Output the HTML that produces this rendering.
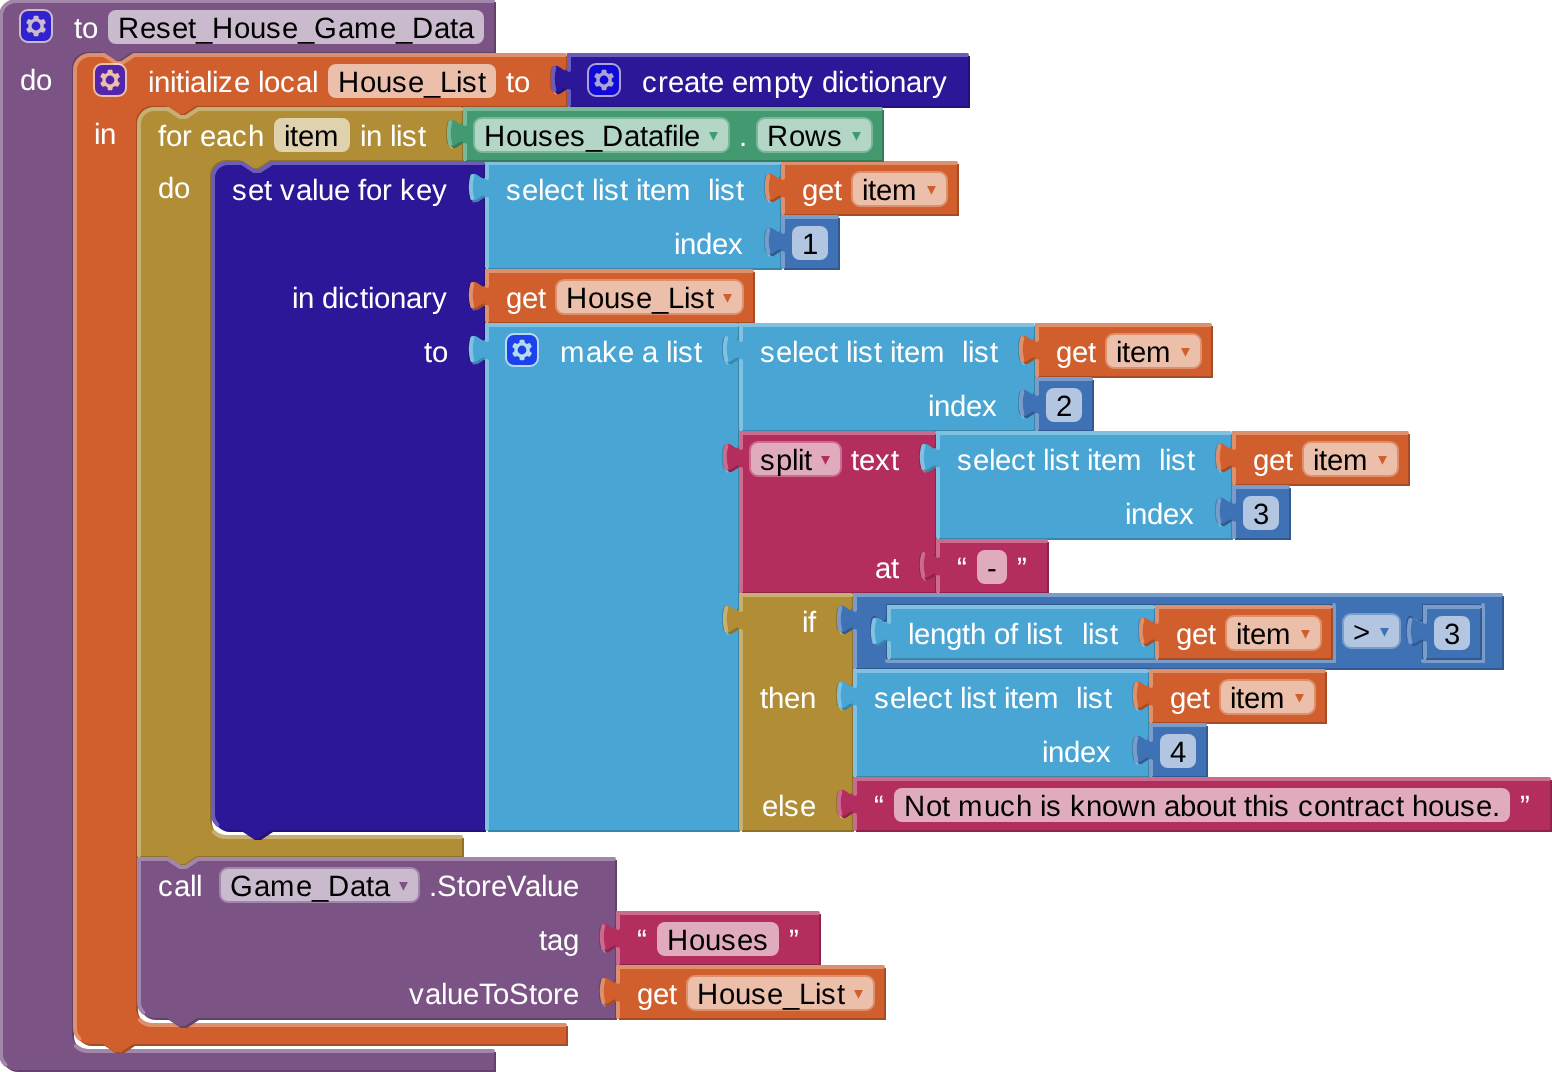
<!DOCTYPE html>
<html lang="en">
<head>
<meta charset="utf-8">
<title>Reset_House_Game_Data</title>
<style>
html,body{margin:0;padding:0;background:#fff;overflow:hidden}
svg{display:block}
text{font-family:"Liberation Sans",Arial,Helvetica,sans-serif;font-size:11pt;white-space:pre;text-rendering:geometricPrecision}
.l{fill:#fff}
.e{fill:#000}
.a{font-family:"DejaVu Sans","Liberation Sans",sans-serif;font-size:8.9px}
.hl{fill:none;stroke-width:2;stroke-linecap:round}
.fr{fill:#fff;fill-opacity:.6}
rect.fr[stroke]{stroke-width:1}
.is{fill:#00f;stroke:#fff;stroke-width:1}
.ig{fill:#fff}
.ic{opacity:.6}
</style>
</head>
<body>
<svg width="1552" height="1072" viewBox="0 0 776 536" xml:space="preserve" role="img" aria-label="App Inventor blocks: procedure Reset_House_Game_Data">
<g transform="translate(0,0)">
<path fill="#63426a" transform="translate(1,1)" d="m 0,8 A 8,8 0 0,1 8,0 H 247 v 26 H 66 l -6,4 -3,0 -6,-4 h -7 a 8,8 0 0,0 -8,8 v 483 a 8,8 0 0,0 8,8 H 247 v 10 H 8 a 8,8 0 0,1 -8,-8 z"/>
<path fill="#7c5385" d="m 0,8 A 8,8 0 0,1 8,0 H 247 v 26 H 66 l -6,4 -3,0 -6,-4 h -7 a 8,8 0 0,0 -8,8 v 483 a 8,8 0 0,0 8,8 H 247 v 10 H 8 a 8,8 0 0,1 -8,-8 z"/>
<path class="hl" stroke="#a387aa" d="m 0.5,7.5 A 7.5,7.5 0 0,1 8,0.5 H 246.5 M 246.5,0.5 M 246.5,26.5 M 37.99,523.01 a 8.5,8.5 0 0,0 6.01,2.49 H 246.5 M 2.697,532.303 A 7.5,7.5 0 0,1 0.5,527 V 8"/>
<g class="ic" transform="translate(10,5)"><rect class="is" rx="4" ry="4" width="16" height="16"/><path class="ig" d="m4.203,7.296 0,1.368 -0.92,0.677 -0.11,0.41 0.9,1.559 0.41,0.11 1.043,-0.457 1.187,0.683 0.127,1.134 0.3,0.3 1.8,0 0.3,-0.299 0.127,-1.138 1.185,-0.682 1.046,0.458 0.409,-0.11 0.9,-1.559 -0.11,-0.41 -0.92,-0.677 0,-1.366 0.92,-0.677 0.11,-0.41 -0.9,-1.559 -0.409,-0.109 -1.046,0.458 -1.185,-0.682 -0.127,-1.138 -0.3,-0.299 -1.8,0 -0.3,0.3 -0.126,1.135 -1.187,0.682 -1.043,-0.457 -0.41,0.11 -0.899,1.559 0.108,0.409z"/><circle class="is" r="2.7" cx="8" cy="8"/></g>
<text class="l" x="37 41" y="19">to</text>
<rect class="fr" x="54" y="5" width="188" height="17" rx="4" ry="4"/>
<text class="e" x="59 70 78 86 94 98 106 117 125 133 141 149 157 169 177 190 198 206 217 225 229" y="19">Reset_House_Game_Data</text>
<text class="l" x="10 18" y="45">do</text>
 <g transform="translate(37,27)">
 <path fill="#a64c24" transform="translate(1,1)" d="m 0,8 A 8,8 0 0,1 8,0 H 15 l 6,4 3,0 6,-4 H 246 v 5 c 0,10 -8,-8 -8,7.5 s 8,-2.5 8,7.5 v 6 H 61 l -6,4 -3,0 -6,-4 h -7 a 8,8 0 0,0 -8,8 v 443 a 8,8 0 0,0 8,8 H 246 v 10 H 29.5 l -6,4 -3,0 -6,-4 H 8 a 8,8 0 0,1 -8,-8 z"/>
 <path fill="#d05f2d" d="m 0,8 A 8,8 0 0,1 8,0 H 15 l 6,4 3,0 6,-4 H 246 v 5 c 0,10 -8,-8 -8,7.5 s 8,-2.5 8,7.5 v 6 H 61 l -6,4 -3,0 -6,-4 h -7 a 8,8 0 0,0 -8,8 v 443 a 8,8 0 0,0 8,8 H 246 v 10 H 29.5 l -6,4 -3,0 -6,-4 H 8 a 8,8 0 0,1 -8,-8 z"/>
 <path class="hl" stroke="#de8f6c" d="m 0.5,7.5 A 7.5,7.5 0 0,1 8,0.5 H 15 l 6,4 3,0 6,-4 H 245.5 M 245.5,0.5 M 241,19.3 l 3.68,-2.1 M 245.5,26.5 M 32.99,483.01 a 8.5,8.5 0 0,0 6.01,2.49 H 245.5 M 2.697,492.303 A 7.5,7.5 0 0,1 0.5,487 V 8"/>
 <g class="ic" transform="translate(10,5)"><rect class="is" rx="4" ry="4" width="16" height="16"/><path class="ig" d="m4.203,7.296 0,1.368 -0.92,0.677 -0.11,0.41 0.9,1.559 0.41,0.11 1.043,-0.457 1.187,0.683 0.127,1.134 0.3,0.3 1.8,0 0.3,-0.299 0.127,-1.138 1.185,-0.682 1.046,0.458 0.409,-0.11 0.9,-1.559 -0.11,-0.41 -0.92,-0.677 0,-1.366 0.92,-0.677 0.11,-0.41 -0.9,-1.559 -0.409,-0.109 -1.046,0.458 -1.185,-0.682 -0.127,-1.138 -0.3,-0.299 -1.8,0 -0.3,0.3 -0.126,1.135 -1.187,0.682 -1.043,-0.457 -0.41,0.11 -0.899,1.559 0.108,0.409z"/><circle class="is" r="2.7" cx="8" cy="8"/></g>
 <text class="l" x="37 40 48 51 55 58 66 69 72 80 88 92 95 103 111 119" y="19">initialize local</text>
 <rect class="fr" x="127" y="5" width="84" height="17" rx="4" ry="4"/>
 <text class="e" x="132 143 151 159 167 175 183 191 194 202" y="19">House_List</text>
 <text class="l" x="216 220" y="19">to</text>
 <text class="l" x="10 13" y="45">in</text>
  <g transform="translate(247,0)">
  <path fill="#24127a" transform="translate(1,1)" d="m 0,0 H 200 v 26 H 0 V 20 c 0,-10 -8,8 -8,-7.5 s 8,2.5 8,-7.5 z"/>
  <path fill="#2d1799" d="m 0,0 H 200 v 26 H 0 V 20 c 0,-10 -8,8 -8,-7.5 s 8,2.5 8,-7.5 z"/>
  <path class="hl" stroke="#6c5db8" d="m 0.5,0.5 H 199.5 M 199.5,0.5 M 0.5,25.5 V 18.5 m -7.36,-0.5 q -1.52,-5.5 0,-11 m 7.36,1 V 0.5 H 1"/>
  <g class="ic" transform="translate(10,5)"><rect class="is" rx="4" ry="4" width="16" height="16"/><path class="ig" d="m4.203,7.296 0,1.368 -0.92,0.677 -0.11,0.41 0.9,1.559 0.41,0.11 1.043,-0.457 1.187,0.683 0.127,1.134 0.3,0.3 1.8,0 0.3,-0.299 0.127,-1.138 1.185,-0.682 1.046,0.458 0.409,-0.11 0.9,-1.559 -0.11,-0.41 -0.92,-0.677 0,-1.366 0.92,-0.677 0.11,-0.41 -0.9,-1.559 -0.409,-0.109 -1.046,0.458 -1.185,-0.682 -0.127,-1.138 -0.3,-0.299 -1.8,0 -0.3,0.3 -0.126,1.135 -1.187,0.682 -1.043,-0.457 -0.41,0.11 -0.899,1.559 0.108,0.409z"/><circle class="is" r="2.7" cx="8" cy="8"/></g>
  <text class="l" x="37 45 50 58 66 70 78 82 90 103 111 115 123 127 135 138 146 150 153 161 169 177 182" y="19">create empty dictionary</text>
  </g>
  <g transform="translate(32,27)">
  <path fill="#8e722a" transform="translate(1,1)" d="m 0,8 A 8,8 0 0,1 8,0 H 15 l 6,4 3,0 6,-4 H 162 v 5 c 0,10 -8,-8 -8,7.5 s 8,-2.5 8,7.5 v 6 H 66 l -6,4 -3,0 -6,-4 h -7 a 8,8 0 0,0 -8,8 v 322 a 8,8 0 0,0 8,8 H 162 v 10 H 29.5 l -6,4 -3,0 -6,-4 H 0 z"/>
  <path fill="#b18e35" d="m 0,8 A 8,8 0 0,1 8,0 H 15 l 6,4 3,0 6,-4 H 162 v 5 c 0,10 -8,-8 -8,7.5 s 8,-2.5 8,7.5 v 6 H 66 l -6,4 -3,0 -6,-4 h -7 a 8,8 0 0,0 -8,8 v 322 a 8,8 0 0,0 8,8 H 162 v 10 H 29.5 l -6,4 -3,0 -6,-4 H 0 z"/>
  <path class="hl" stroke="#c8b072" d="m 0.5,7.5 A 7.5,7.5 0 0,1 8,0.5 H 15 l 6,4 3,0 6,-4 H 161.5 M 161.5,0.5 M 157,19.3 l 3.68,-2.1 M 161.5,26.5 M 37.99,362.01 a 8.5,8.5 0 0,0 6.01,2.49 H 161.5 M 0.5,373.5 V 8"/>
  <text class="l" x="10 14 22 27 31 39 47 55" y="19">for each</text>
  <rect class="fr" x="68" y="5" width="38" height="17" rx="4" ry="4"/>
  <text class="e" x="73 76 80 88" y="19">item</text>
  <text class="l" x="111 114 122 126 129 132 140" y="19">in list</text>
  <text class="l" x="10 18" y="45">do</text>
   <g transform="translate(37,27)">
   <path fill="#24127a" transform="translate(1,1)" d="m 0,8 A 8,8 0 0,1 8,0 H 15 l 6,4 3,0 6,-4 H 136 v 5 c 0,10 -8,-8 -8,7.5 s 8,-2.5 8,7.5 v 34 v 5 c 0,10 -8,-8 -8,7.5 s 8,-2.5 8,7.5 v 7 v 5 c 0,10 -8,-8 -8,7.5 s 8,-2.5 8,7.5 v 233 H 29.5 l -6,4 -3,0 -6,-4 H 8 a 8,8 0 0,1 -8,-8 z"/>
   <path fill="#2d1799" d="m 0,8 A 8,8 0 0,1 8,0 H 15 l 6,4 3,0 6,-4 H 136 v 5 c 0,10 -8,-8 -8,7.5 s 8,-2.5 8,7.5 v 34 v 5 c 0,10 -8,-8 -8,7.5 s 8,-2.5 8,7.5 v 7 v 5 c 0,10 -8,-8 -8,7.5 s 8,-2.5 8,7.5 v 233 H 29.5 l -6,4 -3,0 -6,-4 H 8 a 8,8 0 0,1 -8,-8 z"/>
   <path class="hl" stroke="#6c5db8" d="m 0.5,7.5 A 7.5,7.5 0 0,1 8,0.5 H 15 l 6,4 3,0 6,-4 H 135.5 M 135.5,0.5 M 131,19.3 l 3.68,-2.1 M 135.5,54.5 M 131,73.3 l 3.68,-2.1 M 135.5,81.5 M 131,100.3 l 3.68,-2.1 M 2.697,331.303 A 7.5,7.5 0 0,1 0.5,326 V 8"/>
   <text class="l" x="10 18 26 30 34 42 50 53 61 69 73 77 85 90 94 102 110" y="19">set value for key</text>
   <text class="l" x="40 43 51 55 63 66 74 78 81 89 97 105 110" y="73">in dictionary</text>
   <text class="l" x="106 110" y="100">to</text>
    <g transform="translate(137,0)">
    <path fill="#3a85aa" transform="translate(1,1)" d="m 0,0 H 147 v 5 c 0,10 -8,-8 -8,7.5 s 8,-2.5 8,7.5 v 7 v 5 c 0,10 -8,-8 -8,7.5 s 8,-2.5 8,7.5 v 6 H 0 V 20 c 0,-10 -8,8 -8,-7.5 s 8,2.5 8,-7.5 z"/>
    <path fill="#49a6d4" d="m 0,0 H 147 v 5 c 0,10 -8,-8 -8,7.5 s 8,-2.5 8,7.5 v 7 v 5 c 0,10 -8,-8 -8,7.5 s 8,-2.5 8,7.5 v 6 H 0 V 20 c 0,-10 -8,8 -8,-7.5 s 8,2.5 8,-7.5 z"/>
    <path class="hl" stroke="#80c1e1" d="m 0.5,0.5 H 146.5 M 146.5,0.5 M 142,19.3 l 3.68,-2.1 M 146.5,27.5 M 142,46.3 l 3.68,-2.1 M 0.5,52.5 V 18.5 m -7.36,-0.5 q -1.52,-5.5 0,-11 m 7.36,1 V 0.5 H 1"/>
    <text class="l" x="10 18 26 29 37 45 49 53 56 59 67 71 75 78 82 90 103 107 111 114 117 125" y="19">select list item  list</text>
    <text class="l" x="94 97 105 113 121" y="46">index</text>
     <g transform="translate(148,0)">
     <path fill="#a64c24" transform="translate(1,1)" d="m 0,0 H 87.5 v 26 H 0 V 20 c 0,-10 -8,8 -8,-7.5 s 8,2.5 8,-7.5 z"/>
     <path fill="#d05f2d" d="m 0,0 H 87.5 v 26 H 0 V 20 c 0,-10 -8,8 -8,-7.5 s 8,2.5 8,-7.5 z"/>
     <path class="hl" stroke="#de8f6c" d="m 0.5,0.5 H 87 M 87,0.5 M 0.5,25.5 V 18.5 m -7.36,-0.5 q -1.52,-5.5 0,-11 m 7.36,1 V 0.5 H 1"/>
     <text class="l" x="10 18 26" y="19">get</text>
     <rect class="fr" x="35" y="5" width="47.5" height="17" rx="4" ry="4" stroke="#de8f6c"/>
     <text class="e" x="40 43 47 55" y="19">item</text>
     <text class="a" fill="#d05f2d" x="72.5" y="16.5">▾</text>
     </g>
     <g transform="translate(148,27)">
     <path fill="#325a91" transform="translate(1,1)" d="m 0,0 H 28 v 26 H 0 V 20 c 0,-10 -8,8 -8,-7.5 s 8,2.5 8,-7.5 z"/>
     <path fill="#3f71b5" d="m 0,0 H 28 v 26 H 0 V 20 c 0,-10 -8,8 -8,-7.5 s 8,2.5 8,-7.5 z"/>
     <path class="hl" stroke="#799ccb" d="m 0.5,0.5 H 27.5 M 27.5,0.5 M 0.5,25.5 V 18.5 m -7.36,-0.5 q -1.52,-5.5 0,-11 m 7.36,1 V 0.5 H 1"/>
     <rect class="fr" x="5" y="5" width="18" height="17" rx="4" ry="4"/>
     <text class="e" x="10" y="19">1</text>
     </g>
    </g>
    <g transform="translate(137,54)">
    <path fill="#a64c24" transform="translate(1,1)" d="m 0,0 H 133.5 v 26 H 0 V 20 c 0,-10 -8,8 -8,-7.5 s 8,2.5 8,-7.5 z"/>
    <path fill="#d05f2d" d="m 0,0 H 133.5 v 26 H 0 V 20 c 0,-10 -8,8 -8,-7.5 s 8,2.5 8,-7.5 z"/>
    <path class="hl" stroke="#de8f6c" d="m 0.5,0.5 H 133 M 133,0.5 M 0.5,25.5 V 18.5 m -7.36,-0.5 q -1.52,-5.5 0,-11 m 7.36,1 V 0.5 H 1"/>
    <text class="l" x="10 18 26" y="19">get</text>
    <rect class="fr" x="35" y="5" width="93.5" height="17" rx="4" ry="4" stroke="#de8f6c"/>
    <text class="e" x="40 51 59 67 75 83 91 99 102 110" y="19">House_List</text>
    <text class="a" fill="#d05f2d" x="118.5" y="16.5">▾</text>
    </g>
    <g transform="translate(137,81)">
    <path fill="#3a85aa" transform="translate(1,1)" d="m 0,0 H 126 v 5 c 0,10 -8,-8 -8,7.5 s 8,-2.5 8,7.5 v 34 v 5 c 0,10 -8,-8 -8,7.5 s 8,-2.5 8,7.5 v 61 v 5 c 0,10 -8,-8 -8,7.5 s 8,-2.5 8,7.5 v 98 H 0 V 20 c 0,-10 -8,8 -8,-7.5 s 8,2.5 8,-7.5 z"/>
    <path fill="#49a6d4" d="m 0,0 H 126 v 5 c 0,10 -8,-8 -8,7.5 s 8,-2.5 8,7.5 v 34 v 5 c 0,10 -8,-8 -8,7.5 s 8,-2.5 8,7.5 v 61 v 5 c 0,10 -8,-8 -8,7.5 s 8,-2.5 8,7.5 v 98 H 0 V 20 c 0,-10 -8,8 -8,-7.5 s 8,2.5 8,-7.5 z"/>
    <path class="hl" stroke="#80c1e1" d="m 0.5,0.5 H 125.5 M 125.5,0.5 M 121,19.3 l 3.68,-2.1 M 125.5,54.5 M 121,73.3 l 3.68,-2.1 M 125.5,135.5 M 121,154.3 l 3.68,-2.1 M 0.5,252.5 V 18.5 m -7.36,-0.5 q -1.52,-5.5 0,-11 m 7.36,1 V 0.5 H 1"/>
    <g class="ic" transform="translate(10,5)"><rect class="is" rx="4" ry="4" width="16" height="16"/><path class="ig" d="m4.203,7.296 0,1.368 -0.92,0.677 -0.11,0.41 0.9,1.559 0.41,0.11 1.043,-0.457 1.187,0.683 0.127,1.134 0.3,0.3 1.8,0 0.3,-0.299 0.127,-1.138 1.185,-0.682 1.046,0.458 0.409,-0.11 0.9,-1.559 -0.11,-0.41 -0.92,-0.677 0,-1.366 0.92,-0.677 0.11,-0.41 -0.9,-1.559 -0.409,-0.109 -1.046,0.458 -1.185,-0.682 -0.127,-1.138 -0.3,-0.299 -1.8,0 -0.3,0.3 -0.126,1.135 -1.187,0.682 -1.043,-0.457 -0.41,0.11 -0.899,1.559 0.108,0.409z"/><circle class="is" r="2.7" cx="8" cy="8"/></g>
    <text class="l" x="37 50 58 66 74 78 86 90 93 96 104" y="19">make a list</text>
     <g transform="translate(127,0)">
     <path fill="#3a85aa" transform="translate(1,1)" d="m 0,0 H 147 v 5 c 0,10 -8,-8 -8,7.5 s 8,-2.5 8,7.5 v 7 v 5 c 0,10 -8,-8 -8,7.5 s 8,-2.5 8,7.5 v 6 H 0 V 20 c 0,-10 -8,8 -8,-7.5 s 8,2.5 8,-7.5 z"/>
     <path fill="#49a6d4" d="m 0,0 H 147 v 5 c 0,10 -8,-8 -8,7.5 s 8,-2.5 8,7.5 v 7 v 5 c 0,10 -8,-8 -8,7.5 s 8,-2.5 8,7.5 v 6 H 0 V 20 c 0,-10 -8,8 -8,-7.5 s 8,2.5 8,-7.5 z"/>
     <path class="hl" stroke="#80c1e1" d="m 0.5,0.5 H 146.5 M 146.5,0.5 M 142,19.3 l 3.68,-2.1 M 146.5,27.5 M 142,46.3 l 3.68,-2.1 M 0.5,52.5 V 18.5 m -7.36,-0.5 q -1.52,-5.5 0,-11 m 7.36,1 V 0.5 H 1"/>
     <text class="l" x="10 18 26 29 37 45 49 53 56 59 67 71 75 78 82 90 103 107 111 114 117 125" y="19">select list item  list</text>
     <text class="l" x="94 97 105 113 121" y="46">index</text>
      <g transform="translate(148,0)">
      <path fill="#a64c24" transform="translate(1,1)" d="m 0,0 H 87.5 v 26 H 0 V 20 c 0,-10 -8,8 -8,-7.5 s 8,2.5 8,-7.5 z"/>
      <path fill="#d05f2d" d="m 0,0 H 87.5 v 26 H 0 V 20 c 0,-10 -8,8 -8,-7.5 s 8,2.5 8,-7.5 z"/>
      <path class="hl" stroke="#de8f6c" d="m 0.5,0.5 H 87 M 87,0.5 M 0.5,25.5 V 18.5 m -7.36,-0.5 q -1.52,-5.5 0,-11 m 7.36,1 V 0.5 H 1"/>
      <text class="l" x="10 18 26" y="19">get</text>
      <rect class="fr" x="35" y="5" width="47.5" height="17" rx="4" ry="4" stroke="#de8f6c"/>
      <text class="e" x="40 43 47 55" y="19">item</text>
      <text class="a" fill="#d05f2d" x="72.5" y="16.5">▾</text>
      </g>
      <g transform="translate(148,27)">
      <path fill="#325a91" transform="translate(1,1)" d="m 0,0 H 28 v 26 H 0 V 20 c 0,-10 -8,8 -8,-7.5 s 8,2.5 8,-7.5 z"/>
      <path fill="#3f71b5" d="m 0,0 H 28 v 26 H 0 V 20 c 0,-10 -8,8 -8,-7.5 s 8,2.5 8,-7.5 z"/>
      <path class="hl" stroke="#799ccb" d="m 0.5,0.5 H 27.5 M 27.5,0.5 M 0.5,25.5 V 18.5 m -7.36,-0.5 q -1.52,-5.5 0,-11 m 7.36,1 V 0.5 H 1"/>
      <rect class="fr" x="5" y="5" width="18" height="17" rx="4" ry="4"/>
      <text class="e" x="10" y="19">2</text>
      </g>
     </g>
     <g transform="translate(127,54)">
     <path fill="#8f244b" transform="translate(1,1)" d="m 0,0 H 97.5 v 5 c 0,10 -8,-8 -8,7.5 s 8,-2.5 8,7.5 v 34 v 5 c 0,10 -8,-8 -8,7.5 s 8,-2.5 8,7.5 v 6 H 0 V 20 c 0,-10 -8,8 -8,-7.5 s 8,2.5 8,-7.5 z"/>
     <path fill="#b32d5e" d="m 0,0 H 97.5 v 5 c 0,10 -8,-8 -8,7.5 s 8,-2.5 8,7.5 v 34 v 5 c 0,10 -8,-8 -8,7.5 s 8,-2.5 8,7.5 v 6 H 0 V 20 c 0,-10 -8,8 -8,-7.5 s 8,2.5 8,-7.5 z"/>
     <path class="hl" stroke="#ca6c8e" d="m 0.5,0.5 H 97 M 97,0.5 M 92.5,19.3 l 3.68,-2.1 M 97,54.5 M 92.5,73.3 l 3.68,-2.1 M 0.5,79.5 V 18.5 m -7.36,-0.5 q -1.52,-5.5 0,-11 m 7.36,1 V 0.5 H 1"/>
     <rect class="fr" x="5" y="5" width="45.5" height="17" rx="4" ry="4" stroke="#ca6c8e"/>
     <text class="e" x="10 18 26 29 32" y="19">split</text>
     <text class="a" fill="#b32d5e" x="40.5" y="16.5">▾</text>
     <text class="l" x="55.5 59.5 67.5 75.5" y="19">text</text>
     <text class="l" x="67.5 75.5" y="73">at</text>
      <g transform="translate(98.5,0)">
      <path fill="#3a85aa" transform="translate(1,1)" d="m 0,0 H 147 v 5 c 0,10 -8,-8 -8,7.5 s 8,-2.5 8,7.5 v 7 v 5 c 0,10 -8,-8 -8,7.5 s 8,-2.5 8,7.5 v 6 H 0 V 20 c 0,-10 -8,8 -8,-7.5 s 8,2.5 8,-7.5 z"/>
      <path fill="#49a6d4" d="m 0,0 H 147 v 5 c 0,10 -8,-8 -8,7.5 s 8,-2.5 8,7.5 v 7 v 5 c 0,10 -8,-8 -8,7.5 s 8,-2.5 8,7.5 v 6 H 0 V 20 c 0,-10 -8,8 -8,-7.5 s 8,2.5 8,-7.5 z"/>
      <path class="hl" stroke="#80c1e1" d="m 0.5,0.5 H 146.5 M 146.5,0.5 M 142,19.3 l 3.68,-2.1 M 146.5,27.5 M 142,46.3 l 3.68,-2.1 M 0.5,52.5 V 18.5 m -7.36,-0.5 q -1.52,-5.5 0,-11 m 7.36,1 V 0.5 H 1"/>
      <text class="l" x="10 18 26 29 37 45 49 53 56 59 67 71 75 78 82 90 103 107 111 114 117 125" y="19">select list item  list</text>
      <text class="l" x="94 97 105 113 121" y="46">index</text>
       <g transform="translate(148,0)">
       <path fill="#a64c24" transform="translate(1,1)" d="m 0,0 H 87.5 v 26 H 0 V 20 c 0,-10 -8,8 -8,-7.5 s 8,2.5 8,-7.5 z"/>
       <path fill="#d05f2d" d="m 0,0 H 87.5 v 26 H 0 V 20 c 0,-10 -8,8 -8,-7.5 s 8,2.5 8,-7.5 z"/>
       <path class="hl" stroke="#de8f6c" d="m 0.5,0.5 H 87 M 87,0.5 M 0.5,25.5 V 18.5 m -7.36,-0.5 q -1.52,-5.5 0,-11 m 7.36,1 V 0.5 H 1"/>
       <text class="l" x="10 18 26" y="19">get</text>
       <rect class="fr" x="35" y="5" width="47.5" height="17" rx="4" ry="4" stroke="#de8f6c"/>
       <text class="e" x="40 43 47 55" y="19">item</text>
       <text class="a" fill="#d05f2d" x="72.5" y="16.5">▾</text>
       </g>
       <g transform="translate(148,27)">
       <path fill="#325a91" transform="translate(1,1)" d="m 0,0 H 28 v 26 H 0 V 20 c 0,-10 -8,8 -8,-7.5 s 8,2.5 8,-7.5 z"/>
       <path fill="#3f71b5" d="m 0,0 H 28 v 26 H 0 V 20 c 0,-10 -8,8 -8,-7.5 s 8,2.5 8,-7.5 z"/>
       <path class="hl" stroke="#799ccb" d="m 0.5,0.5 H 27.5 M 27.5,0.5 M 0.5,25.5 V 18.5 m -7.36,-0.5 q -1.52,-5.5 0,-11 m 7.36,1 V 0.5 H 1"/>
       <rect class="fr" x="5" y="5" width="18" height="17" rx="4" ry="4"/>
       <text class="e" x="10" y="19">3</text>
       </g>
      </g>
      <g transform="translate(98.5,54)">
      <path fill="#8f244b" transform="translate(1,1)" d="m 0,0 H 55 v 26 H 0 V 20 c 0,-10 -8,8 -8,-7.5 s 8,2.5 8,-7.5 z"/>
      <path fill="#b32d5e" d="m 0,0 H 55 v 26 H 0 V 20 c 0,-10 -8,8 -8,-7.5 s 8,2.5 8,-7.5 z"/>
      <path class="hl" stroke="#ca6c8e" d="m 0.5,0.5 H 54.5 M 54.5,0.5 M 0.5,25.5 V 18.5 m -7.36,-0.5 q -1.52,-5.5 0,-11 m 7.36,1 V 0.5 H 1"/>
      <text class="l" x="10" y="19">“</text>
      <rect class="fr" x="20" y="5" width="15" height="17" rx="4" ry="4"/>
      <text class="e" x="25" y="19">-</text>
      <text class="l" x="40" y="19">”</text>
      </g>
     </g>
     <g transform="translate(127,135)">
     <path fill="#8e722a" transform="translate(1,1)" d="m 0,0 H 56 v 5 c 0,10 -8,-8 -8,7.5 s 8,-2.5 8,7.5 v 18 v 5 c 0,10 -8,-8 -8,7.5 s 8,-2.5 8,7.5 v 34 v 5 c 0,10 -8,-8 -8,7.5 s 8,-2.5 8,7.5 v 6 H 0 V 20 c 0,-10 -8,8 -8,-7.5 s 8,2.5 8,-7.5 z"/>
     <path fill="#b18e35" d="m 0,0 H 56 v 5 c 0,10 -8,-8 -8,7.5 s 8,-2.5 8,7.5 v 18 v 5 c 0,10 -8,-8 -8,7.5 s 8,-2.5 8,7.5 v 34 v 5 c 0,10 -8,-8 -8,7.5 s 8,-2.5 8,7.5 v 6 H 0 V 20 c 0,-10 -8,8 -8,-7.5 s 8,2.5 8,-7.5 z"/>
     <path class="hl" stroke="#c8b072" d="m 0.5,0.5 H 55.5 M 55.5,0.5 M 51,19.3 l 3.68,-2.1 M 55.5,38.5 M 51,57.3 l 3.68,-2.1 M 55.5,92.5 M 51,111.3 l 3.68,-2.1 M 0.5,117.5 V 18.5 m -7.36,-0.5 q -1.52,-5.5 0,-11 m 7.36,1 V 0.5 H 1"/>
     <text class="l" x="31 34" y="19">if</text>
     <text class="l" x="10 14 22 30" y="57">then</text>
     <text class="l" x="11 19 22 30" y="111">else</text>
      <g transform="translate(57,0)">
      <path fill="#325a91" transform="translate(1,1)" d="m 0,0 H 20 H 324 v 37 H 0 V 20 c 0,-10 -8,8 -8,-7.5 s 8,2.5 8,-7.5 z M 239.5,5 h -223.5 v 5 c 0,10 -8,-8 -8,7.5 s 8,-2.5 8,7.5 v 8 h 223.5 z M 314,5 h -30 v 5 c 0,10 -8,-8 -8,7.5 s 8,-2.5 8,7.5 v 8 h 30 z"/>
      <path fill="#3f71b5" d="m 0,0 H 20 H 324 v 37 H 0 V 20 c 0,-10 -8,8 -8,-7.5 s 8,2.5 8,-7.5 z M 239.5,5 h -223.5 v 5 c 0,10 -8,-8 -8,7.5 s 8,-2.5 8,7.5 v 8 h 223.5 z M 314,5 h -30 v 5 c 0,10 -8,-8 -8,7.5 s 8,-2.5 8,7.5 v 8 h 30 z"/>
      <path class="hl" stroke="#799ccb" d="m 0.5,0.5 H 19.5 M 19.5,0.5 H 323.5 M 0.5,36.5 V 18.5 m -7.36,-0.5 q -1.52,-5.5 0,-11 m 7.36,1 V 0.5 H 1 M 240,5.5 v 28 h -223.5 M 10.9,24.3 l 3.68,-2.1 M 314.5,5.5 v 28 h -30 M 278.9,24.3 l 3.68,-2.1"/>
      <rect class="fr" x="244.5" y="10" width="28.5" height="17" rx="4" ry="4" stroke="#799ccb"/>
      <text class="e" x="249.5" y="24">&gt;</text>
      <text class="a" fill="#3f71b5" x="263" y="21.5">▾</text>
       <g transform="translate(17,6)">
       <path fill="#3a85aa" transform="translate(1,1)" d="m 0,0 H 133 v 5 c 0,10 -8,-8 -8,7.5 s 8,-2.5 8,7.5 v 6 H 0 V 20 c 0,-10 -8,8 -8,-7.5 s 8,2.5 8,-7.5 z"/>
       <path fill="#49a6d4" d="m 0,0 H 133 v 5 c 0,10 -8,-8 -8,7.5 s 8,-2.5 8,7.5 v 6 H 0 V 20 c 0,-10 -8,8 -8,-7.5 s 8,2.5 8,-7.5 z"/>
       <path class="hl" stroke="#80c1e1" d="m 0.5,0.5 H 132.5 M 132.5,0.5 M 128,19.3 l 3.68,-2.1 M 0.5,25.5 V 18.5 m -7.36,-0.5 q -1.52,-5.5 0,-11 m 7.36,1 V 0.5 H 1"/>
       <text class="l" x="10 13 21 29 37 41 49 53 61 65 69 72 75 83" y="19">length of list</text>
       <text class="l" x="97 100 103 111" y="19">list</text>
        <g transform="translate(134,0)">
        <path fill="#a64c24" transform="translate(1,1)" d="m 0,0 H 87.5 v 26 H 0 V 20 c 0,-10 -8,8 -8,-7.5 s 8,2.5 8,-7.5 z"/>
        <path fill="#d05f2d" d="m 0,0 H 87.5 v 26 H 0 V 20 c 0,-10 -8,8 -8,-7.5 s 8,2.5 8,-7.5 z"/>
        <path class="hl" stroke="#de8f6c" d="m 0.5,0.5 H 87 M 87,0.5 M 0.5,25.5 V 18.5 m -7.36,-0.5 q -1.52,-5.5 0,-11 m 7.36,1 V 0.5 H 1"/>
        <text class="l" x="10 18 26" y="19">get</text>
        <rect class="fr" x="35" y="5" width="47.5" height="17" rx="4" ry="4" stroke="#de8f6c"/>
        <text class="e" x="40 43 47 55" y="19">item</text>
        <text class="a" fill="#d05f2d" x="72.5" y="16.5">▾</text>
        </g>
       </g>
       <g transform="translate(285,6)">
       <path fill="#325a91" transform="translate(1,1)" d="m 0,0 H 28 v 26 H 0 V 20 c 0,-10 -8,8 -8,-7.5 s 8,2.5 8,-7.5 z"/>
       <path fill="#3f71b5" d="m 0,0 H 28 v 26 H 0 V 20 c 0,-10 -8,8 -8,-7.5 s 8,2.5 8,-7.5 z"/>
       <path class="hl" stroke="#799ccb" d="m 0.5,0.5 H 27.5 M 27.5,0.5 M 0.5,25.5 V 18.5 m -7.36,-0.5 q -1.52,-5.5 0,-11 m 7.36,1 V 0.5 H 1"/>
       <rect class="fr" x="5" y="5" width="18" height="17" rx="4" ry="4"/>
       <text class="e" x="10" y="19">3</text>
       </g>
      </g>
      <g transform="translate(57,38)">
      <path fill="#3a85aa" transform="translate(1,1)" d="m 0,0 H 147 v 5 c 0,10 -8,-8 -8,7.5 s 8,-2.5 8,7.5 v 7 v 5 c 0,10 -8,-8 -8,7.5 s 8,-2.5 8,7.5 v 6 H 0 V 20 c 0,-10 -8,8 -8,-7.5 s 8,2.5 8,-7.5 z"/>
      <path fill="#49a6d4" d="m 0,0 H 147 v 5 c 0,10 -8,-8 -8,7.5 s 8,-2.5 8,7.5 v 7 v 5 c 0,10 -8,-8 -8,7.5 s 8,-2.5 8,7.5 v 6 H 0 V 20 c 0,-10 -8,8 -8,-7.5 s 8,2.5 8,-7.5 z"/>
      <path class="hl" stroke="#80c1e1" d="m 0.5,0.5 H 146.5 M 146.5,0.5 M 142,19.3 l 3.68,-2.1 M 146.5,27.5 M 142,46.3 l 3.68,-2.1 M 0.5,52.5 V 18.5 m -7.36,-0.5 q -1.52,-5.5 0,-11 m 7.36,1 V 0.5 H 1"/>
      <text class="l" x="10 18 26 29 37 45 49 53 56 59 67 71 75 78 82 90 103 107 111 114 117 125" y="19">select list item  list</text>
      <text class="l" x="94 97 105 113 121" y="46">index</text>
       <g transform="translate(148,0)">
       <path fill="#a64c24" transform="translate(1,1)" d="m 0,0 H 87.5 v 26 H 0 V 20 c 0,-10 -8,8 -8,-7.5 s 8,2.5 8,-7.5 z"/>
       <path fill="#d05f2d" d="m 0,0 H 87.5 v 26 H 0 V 20 c 0,-10 -8,8 -8,-7.5 s 8,2.5 8,-7.5 z"/>
       <path class="hl" stroke="#de8f6c" d="m 0.5,0.5 H 87 M 87,0.5 M 0.5,25.5 V 18.5 m -7.36,-0.5 q -1.52,-5.5 0,-11 m 7.36,1 V 0.5 H 1"/>
       <text class="l" x="10 18 26" y="19">get</text>
       <rect class="fr" x="35" y="5" width="47.5" height="17" rx="4" ry="4" stroke="#de8f6c"/>
       <text class="e" x="40 43 47 55" y="19">item</text>
       <text class="a" fill="#d05f2d" x="72.5" y="16.5">▾</text>
       </g>
       <g transform="translate(148,27)">
       <path fill="#325a91" transform="translate(1,1)" d="m 0,0 H 28 v 26 H 0 V 20 c 0,-10 -8,8 -8,-7.5 s 8,2.5 8,-7.5 z"/>
       <path fill="#3f71b5" d="m 0,0 H 28 v 26 H 0 V 20 c 0,-10 -8,8 -8,-7.5 s 8,2.5 8,-7.5 z"/>
       <path class="hl" stroke="#799ccb" d="m 0.5,0.5 H 27.5 M 27.5,0.5 M 0.5,25.5 V 18.5 m -7.36,-0.5 q -1.52,-5.5 0,-11 m 7.36,1 V 0.5 H 1"/>
       <rect class="fr" x="5" y="5" width="18" height="17" rx="4" ry="4"/>
       <text class="e" x="10" y="19">4</text>
       </g>
      </g>
      <g transform="translate(57,92)">
      <path fill="#8f244b" transform="translate(1,1)" d="m 0,0 H 348 v 26 H 0 V 20 c 0,-10 -8,8 -8,-7.5 s 8,2.5 8,-7.5 z"/>
      <path fill="#b32d5e" d="m 0,0 H 348 v 26 H 0 V 20 c 0,-10 -8,8 -8,-7.5 s 8,2.5 8,-7.5 z"/>
      <path class="hl" stroke="#ca6c8e" d="m 0.5,0.5 H 347.5 M 347.5,0.5 M 0.5,25.5 V 18.5 m -7.36,-0.5 q -1.52,-5.5 0,-11 m 7.36,1 V 0.5 H 1"/>
      <text class="l" x="10" y="19">“</text>
      <rect class="fr" x="20" y="5" width="308" height="17" rx="4" ry="4"/>
      <text class="e" x="25 36 44 48 52 65 73 81 89 93 96 104 108 116 124 132 143 151 155 163 171 179 187 191 195 199 207 210 218 222 230 238 246 250 255 263 271 275 279 287 295 303 311 319" y="19">Not much is known about this contract house.</text>
      <text class="l" x="333" y="19">”</text>
      </g>
     </g>
    </g>
   </g>
   <g transform="translate(0,375)">
   <path fill="#63426a" transform="translate(1,1)" d="m 0,0 H 15 l 6,4 3,0 6,-4 H 238.5 v 27 v 5 c 0,10 -8,-8 -8,7.5 s 8,-2.5 8,7.5 v 7 v 5 c 0,10 -8,-8 -8,7.5 s 8,-2.5 8,7.5 v 6 H 29.5 l -6,4 -3,0 -6,-4 H 8 a 8,8 0 0,1 -8,-8 z"/>
   <path fill="#7c5385" d="m 0,0 H 15 l 6,4 3,0 6,-4 H 238.5 v 27 v 5 c 0,10 -8,-8 -8,7.5 s 8,-2.5 8,7.5 v 7 v 5 c 0,10 -8,-8 -8,7.5 s 8,-2.5 8,7.5 v 6 H 29.5 l -6,4 -3,0 -6,-4 H 8 a 8,8 0 0,1 -8,-8 z"/>
   <path class="hl" stroke="#a387aa" d="m 0.5,0.5 H 15 l 6,4 3,0 6,-4 H 238 M 238,0.5 M 238,27.5 M 233.5,46.3 l 3.68,-2.1 M 238,54.5 M 233.5,73.3 l 3.68,-2.1 M 2.697,77.303 A 7.5,7.5 0 0,1 0.5,72 V 0.5"/>
   <text class="l" x="10 18 26 29 32" y="19">call </text>
   <rect class="fr" x="41" y="5" width="99.5" height="17" rx="4" ry="4" stroke="#a387aa"/>
   <text class="e" x="46 58 66 79 87 95 106 114 118" y="19">Game_Data</text>
   <text class="a" fill="#7c5385" x="130.5" y="16.5">▾</text>
   <text class="l" x="145.5 149.5 159.5 163.5 171.5 176.5 184.5 193.5 201.5 204.5 212.5" y="19">.StoreValue</text>
   <text class="l" x="200.5 204.5 212.5" y="46">tag</text>
   <text class="l" x="135.5 143.5 151.5 154.5 162.5 170.5 177.5 185.5 195.5 199.5 207.5 212.5" y="73">valueToStore</text>
    <g transform="translate(239.5,27)">
    <path fill="#8f244b" transform="translate(1,1)" d="m 0,0 H 101 v 26 H 0 V 20 c 0,-10 -8,8 -8,-7.5 s 8,2.5 8,-7.5 z"/>
    <path fill="#b32d5e" d="m 0,0 H 101 v 26 H 0 V 20 c 0,-10 -8,8 -8,-7.5 s 8,2.5 8,-7.5 z"/>
    <path class="hl" stroke="#ca6c8e" d="m 0.5,0.5 H 100.5 M 100.5,0.5 M 0.5,25.5 V 18.5 m -7.36,-0.5 q -1.52,-5.5 0,-11 m 7.36,1 V 0.5 H 1"/>
    <text class="l" x="10" y="19">“</text>
    <rect class="fr" x="20" y="5" width="61" height="17" rx="4" ry="4"/>
    <text class="e" x="25 36 44 52 60 68" y="19">Houses</text>
    <text class="l" x="86" y="19">”</text>
    </g>
    <g transform="translate(239.5,54)">
    <path fill="#a64c24" transform="translate(1,1)" d="m 0,0 H 133.5 v 26 H 0 V 20 c 0,-10 -8,8 -8,-7.5 s 8,2.5 8,-7.5 z"/>
    <path fill="#d05f2d" d="m 0,0 H 133.5 v 26 H 0 V 20 c 0,-10 -8,8 -8,-7.5 s 8,2.5 8,-7.5 z"/>
    <path class="hl" stroke="#de8f6c" d="m 0.5,0.5 H 133 M 133,0.5 M 0.5,25.5 V 18.5 m -7.36,-0.5 q -1.52,-5.5 0,-11 m 7.36,1 V 0.5 H 1"/>
    <text class="l" x="10 18 26" y="19">get</text>
    <rect class="fr" x="35" y="5" width="93.5" height="17" rx="4" ry="4" stroke="#de8f6c"/>
    <text class="e" x="40 51 59 67 75 83 91 99 102 110" y="19">House_List</text>
    <text class="a" fill="#d05f2d" x="118.5" y="16.5">▾</text>
    </g>
   </g>
   <g transform="translate(163,0)">
   <path fill="#367a5a" transform="translate(1,1)" d="m 0,0 H 209 v 26 H 0 V 20 c 0,-10 -8,8 -8,-7.5 s 8,2.5 8,-7.5 z"/>
   <path fill="#439970" d="m 0,0 H 209 v 26 H 0 V 20 c 0,-10 -8,8 -8,-7.5 s 8,2.5 8,-7.5 z"/>
   <path class="hl" stroke="#7bb89b" d="m 0.5,0.5 H 208.5 M 208.5,0.5 M 0.5,25.5 V 18.5 m -7.36,-0.5 q -1.52,-5.5 0,-11 m 7.36,1 V 0.5 H 1"/>
   <rect class="fr" x="5" y="5" width="127.5" height="17" rx="4" ry="4" stroke="#7bb89b"/>
   <text class="e" x="10 21 29 37 45 53 61 69 80 88 92 100 104 107 110" y="19">Houses_Datafile</text>
   <text class="a" fill="#439970" x="122.5" y="16.5">▾</text>
   <text class="l" x="137.5" y="19">.</text>
   <rect class="fr" x="146.5" y="5" width="57.5" height="17" rx="4" ry="4" stroke="#7bb89b"/>
   <text class="e" x="151.5 162.5 170.5 181.5" y="19">Rows</text>
   <text class="a" fill="#439970" x="194" y="16.5">▾</text>
   </g>
  </g>
 </g>
</g>
</svg>
</body>
</html>
